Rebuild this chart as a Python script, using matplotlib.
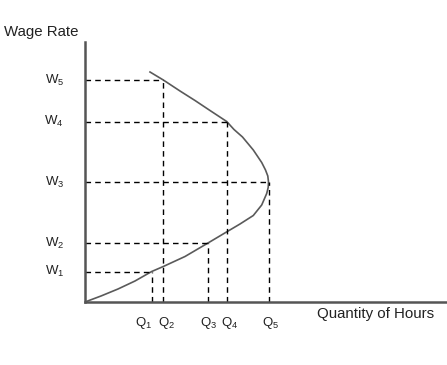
import matplotlib
matplotlib.use("Agg")
import matplotlib.pyplot as plt

plt.rcParams['font.family'] = ['Liberation Sans', 'DejaVu Sans']
plt.rcParams['mathtext.fontset'] = 'custom'
plt.rcParams['mathtext.rm'] = 'Liberation Sans'
plt.rcParams['mathtext.default'] = 'regular'

# supply curve (hours, wage)
curve_q = [0, 16, 33, 50, 66.7, 78.3, 100, 122.5, 141.5, 155, 168.3, 176.7,
           181.7, 183.2, 183.5, 182.8, 180.5, 176.7, 168.3, 157.5, 149, 141.7,
           125, 110, 95, 78.3, 65]
curve_w = [0, 6, 13, 21, 30.5, 35.5, 45.5, 58.7, 70, 78, 86.5, 97,
           108.5, 114.5, 120, 126, 132, 139.5, 152, 165, 172.5, 180.5,
           191.5, 201.5, 211, 222, 230]

# marked points
q_labels = ['Q$_1$', 'Q$_2$', 'Q$_3$', 'Q$_4$', 'Q$_5$']
q_vals = [66.7, 78.3, 122.5, 141.7, 183.5]
w_labels = ['W$_1$', 'W$_2$', 'W$_3$', 'W$_4$', 'W$_5$']
w_vals = [30.5, 58.7, 120, 180.5, 222]
# hours on the curve at each wage
w_to_q = [66.7, 122.5, 183.5, 141.7, 78.3]

W, H = 447, 365
fig = plt.figure(figsize=(W / 100, H / 100), dpi=100)
ax = fig.add_axes([85 / W, (H - 302) / H, (W - 85) / W, (302 - 42) / H])
ax.set_xlim(0, 362)
ax.set_ylim(0, 260)

ax.plot(curve_q, curve_w, color='#5a5a5a', lw=1.2, solid_joinstyle='round')

for w, q in zip(w_vals, w_to_q):
    ax.plot([0, q], [w, w], color='black', lw=1.0, ls=(0, (4, 3)))
    ax.plot([q, q], [0, w], color='black', lw=1.0, ls=(0, (4, 3)))

for spine in ['top', 'right']:
    ax.spines[spine].set_visible(False)
for spine in ['left', 'bottom']:
    ax.spines[spine].set_color('#555555')
    ax.spines[spine].set_linewidth(1.8)

ax.set_xticks([])
ax.set_yticks([])

for lab, w in zip(w_labels, w_vals):
    ax.text(-21, w, lab, ha='right', va='center', fontsize=9.5, color='#222222')
# Q1 and Q2 sit close, so their labels are nudged apart
nudge = [-8, 3, 1, 3, 2]
for lab, q, dx in zip(q_labels, q_vals, nudge):
    ax.text(q + dx, -21, lab, ha='center', va='center', fontsize=9.5, color='#222222')

fig.text(4 / W, 1 - 32 / H, 'Wage Rate', ha='left', va='center', fontsize=10.8, color='#222222')
fig.text(317 / W, 1 - 314 / H, 'Quantity of Hours', ha='left', va='center', fontsize=10.8, color='#222222')

fig.savefig('out.png', dpi=100)
